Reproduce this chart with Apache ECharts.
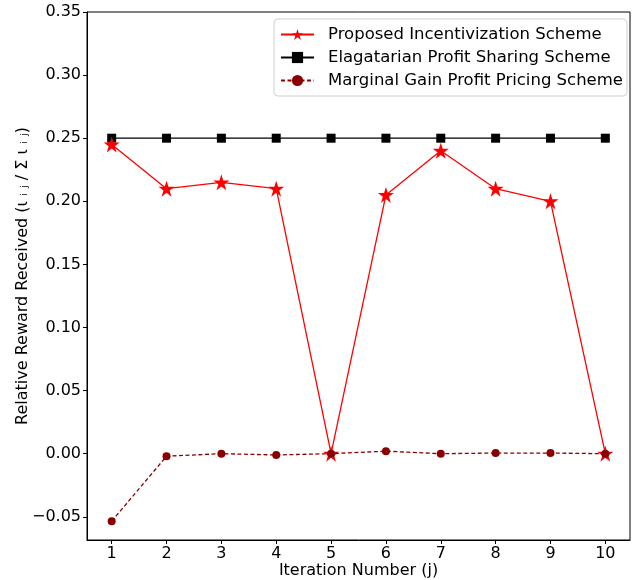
<!DOCTYPE html>
<html><head><meta charset="utf-8">
<script src="https://cdn.jsdelivr.net/npm/echarts@6/dist/echarts.min.js"></script>
<style>html,body{margin:0;padding:0;background:#fff}#c{width:642px;height:580px}</style>
</head><body><div id="c"></div>
<script>
const iterations = [1,2,3,4,5,6,7,8,9,10];
const proposed = [0.245,0.21,0.215,0.21,0.0,0.205,0.24,0.21,0.20,0.0];
const egalitarian = [0.25,0.25,0.25,0.25,0.25,0.25,0.25,0.25,0.25,0.25];
const marginal = [-0.0535,-0.002,0.0,-0.001,0.0,0.002,0.0,0.0005,0.0005,0.0];
const xTicks = [1,2,3,4,5,6,7,8,9,10];
const yTicks = [-0.05,0,0.05,0.10,0.15,0.20,0.25,0.30,0.35];
const names = ['Proposed Incentivization Scheme','Elagatarian Profit Sharing Scheme','Marginal Gain Profit Pricing Scheme'];
const pair = arr => iterations.map((x,i)=>[x,arr[i]]);
const star = 'path://M50,2 L61,36 L97,36 L68,57 L79,92 L50,70 L21,92 L32,57 L3,36 L39,36 Z';
const font = 'DejaVu Sans';
const chart = echarts.init(document.getElementById('c'));
chart.setOption({
  animation:false,
  textStyle:{fontFamily:font},
  grid:{left:87,right:12,top:12,bottom:40,outerBoundsMode:'none',containLabel:false,show:true,borderColor:'#000',borderWidth:1,backgroundColor:'transparent'},
  legend:{
    orient:'vertical',right:15,top:19,itemWidth:33,itemHeight:14,itemGap:6,
    padding:[7,4,7,6],borderColor:'#d0d0d0',borderWidth:1,borderRadius:4,backgroundColor:'rgba(255,255,255,0.8)',
    textStyle:{fontFamily:font,fontSize:16.5,lineHeight:17,color:'#000',padding:[0,0,0,9]},
    data:names
  },
  xAxis:{
    type:'value',min:0.55,max:10.45,
    name:'Iteration Number (j)',nameLocation:'middle',nameGap:23,nameMoveOverlap:false,
    nameTextStyle:{fontFamily:font,fontSize:16,color:'#000'},
    axisLine:{show:true,onZero:false,lineStyle:{color:'#000',width:1}},
    axisTick:{show:true,length:4,customValues:xTicks,lineStyle:{color:'#000'}},
    axisLabel:{customValues:xTicks,fontFamily:font,fontSize:16,color:'#000',margin:6},
    splitLine:{show:false}
  },
  yAxis:{
    type:'value',min:-0.0684,max:0.35,
    name:'Relative Reward Received (ι ᵢ ⱼ / Σ ι ᵢ ⱼ)',nameLocation:'middle',nameGap:56,nameMoveOverlap:false,
    nameTextStyle:{fontFamily:font,fontSize:16,color:'#000'},
    axisLine:{show:true,onZero:false,lineStyle:{color:'#000',width:1}},
    axisTick:{show:true,length:4,customValues:yTicks,lineStyle:{color:'#000'}},
    axisLabel:{customValues:yTicks,fontFamily:font,fontSize:16,color:'#000',margin:6,
      formatter:v=>(v<0?'\u2212':'')+Math.abs(v).toFixed(2)},
    splitLine:{show:false}
  },
  series:[
    {name:names[0],type:'line',data:pair(proposed),symbol:star,symbolSize:16,z:3,
     lineStyle:{color:'#ff0000',width:1.3},itemStyle:{color:'#ff0000'}},
    {name:names[1],type:'line',data:pair(egalitarian),symbol:'rect',symbolSize:9,z:2,
     lineStyle:{color:'#000',width:1.3},itemStyle:{color:'#000'}},
    {name:names[2],type:'line',data:pair(marginal),symbol:'circle',symbolSize:8,z:4,
     lineStyle:{color:'#8b0000',width:1.3,type:[4,2.5]},itemStyle:{color:'#8b0000'}}
  ]
});
</script></body></html>
